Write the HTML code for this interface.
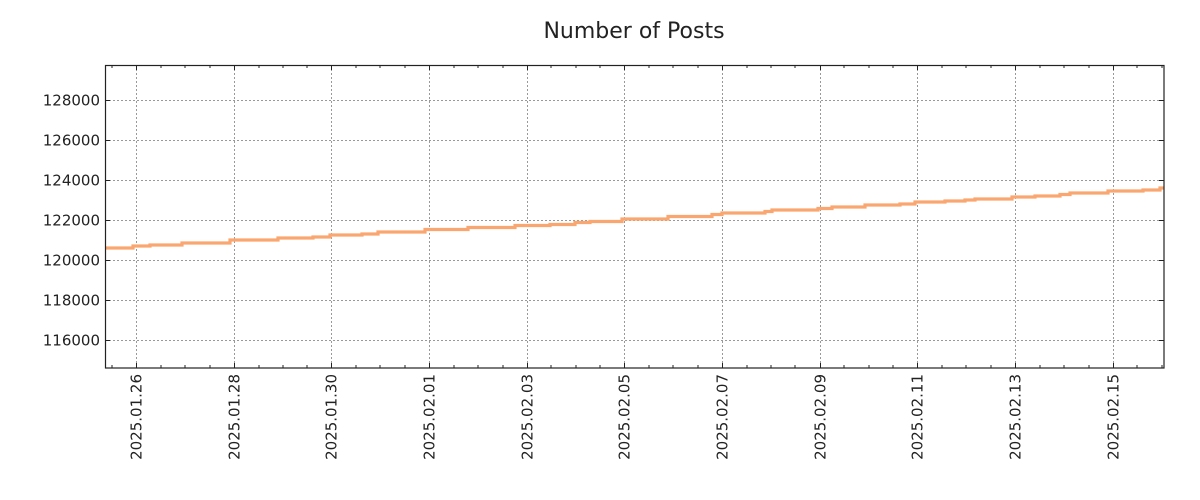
<!DOCTYPE html>
<html><head><style>html,body{margin:0;background:#fff;overflow:hidden;width:1200px;height:500px}svg{display:block}</style></head><body>
<svg width="1200" height="500" xmlns="http://www.w3.org/2000/svg" font-family="DejaVu Sans, Liberation Sans, sans-serif" fill="#222">
<text x="634" y="38" font-size="22" text-anchor="middle">Number of Posts</text>
<g stroke="#999" stroke-dasharray="2,2" stroke-width="1">
<line x1="105" x2="1164" y1="100.5" y2="100.5"/><line x1="105" x2="1164" y1="140.5" y2="140.5"/><line x1="105" x2="1164" y1="180.5" y2="180.5"/><line x1="105" x2="1164" y1="220.5" y2="220.5"/><line x1="105" x2="1164" y1="260.5" y2="260.5"/><line x1="105" x2="1164" y1="300.5" y2="300.5"/><line x1="105" x2="1164" y1="340.5" y2="340.5"/>
<line y1="65" y2="368" x1="136.5" x2="136.5"/><line y1="65" y2="368" x1="234.5" x2="234.5"/><line y1="65" y2="368" x1="331.5" x2="331.5"/><line y1="65" y2="368" x1="429.5" x2="429.5"/><line y1="65" y2="368" x1="527.5" x2="527.5"/><line y1="65" y2="368" x1="624.5" x2="624.5"/><line y1="65" y2="368" x1="722.5" x2="722.5"/><line y1="65" y2="368" x1="820.5" x2="820.5"/><line y1="65" y2="368" x1="917.5" x2="917.5"/><line y1="65" y2="368" x1="1015.5" x2="1015.5"/><line y1="65" y2="368" x1="1113.5" x2="1113.5"/>
</g>
<path fill="none" stroke="#f9a671" stroke-width="3.2" d="M105,248H133V246H150V245H182V243H230V240H278V238H313V237H330V235H362V234H378V232H425V229.5H468V227.5H515V225.5H550V224.5H575V222.5H590V221.5H622V219H668V216.5H712V214.5H722V213H765V211.5H772V210H818V208.5H832V207H865V205H900V204H915V202H945V201H965V200H975V199H1012V197H1035V196H1060V194.5H1070V193H1108V191H1143V190H1160V188H1164"/>
<rect x="105.5" y="65.5" width="1058.5" height="302.5" fill="none" stroke="#222" stroke-width="1.2"/>
<g stroke="#222" stroke-width="1">
<path d="M105,100.5h5M105,140.5h5M105,180.5h5M105,220.5h5M105,260.5h5M105,300.5h5M105,340.5h5M1164,100.5h-5M1164,140.5h-5M1164,180.5h-5M1164,220.5h-5M1164,260.5h-5M1164,300.5h-5M1164,340.5h-5"/>
<path d="M136.5,368v-5M234.5,368v-5M331.5,368v-5M429.5,368v-5M527.5,368v-5M624.5,368v-5M722.5,368v-5M820.5,368v-5M917.5,368v-5M1015.5,368v-5M1113.5,368v-5M136.5,65v5M234.5,65v5M331.5,65v5M429.5,65v5M527.5,65v5M624.5,65v5M722.5,65v5M820.5,65v5M917.5,65v5M1015.5,65v5M1113.5,65v5"/>
<path d="M112,368v-3M161,368v-3M185,368v-3M210,368v-3M259,368v-3M283,368v-3M307,368v-3M356,368v-3M380,368v-3M405,368v-3M454,368v-3M478,368v-3M503,368v-3M551,368v-3M576,368v-3M600,368v-3M649,368v-3M673,368v-3M698,368v-3M747,368v-3M771,368v-3M795,368v-3M844,368v-3M869,368v-3M893,368v-3M942,368v-3M966,368v-3M991,368v-3M1040,368v-3M1064,368v-3M1089,368v-3M1137,368v-3M1162,368v-3"/>
<path d="M112,65v3M161,65v3M185,65v3M210,65v3M259,65v3M283,65v3M307,65v3M356,65v3M380,65v3M405,65v3M454,65v3M478,65v3M503,65v3M551,65v3M576,65v3M600,65v3M649,65v3M673,65v3M698,65v3M747,65v3M771,65v3M795,65v3M844,65v3M869,65v3M893,65v3M942,65v3M966,65v3M991,65v3M1040,65v3M1064,65v3M1089,65v3M1137,65v3M1162,65v3"/>
</g>
<g font-size="15" text-anchor="end">
<text x="100" y="105.5">128000</text><text x="100" y="145.5">126000</text><text x="100" y="185.5">124000</text><text x="100" y="225.5">122000</text><text x="100" y="265.5">120000</text><text x="100" y="305.5">118000</text><text x="100" y="345.5">116000</text>
</g>
<g font-size="15" text-anchor="end">
<text transform="translate(141.5,374) rotate(-90)">2025.01.26</text>
<text transform="translate(239.5,374) rotate(-90)">2025.01.28</text>
<text transform="translate(336.5,374) rotate(-90)">2025.01.30</text>
<text transform="translate(434.5,374) rotate(-90)">2025.02.01</text>
<text transform="translate(532.5,374) rotate(-90)">2025.02.03</text>
<text transform="translate(629.5,374) rotate(-90)">2025.02.05</text>
<text transform="translate(727.5,374) rotate(-90)">2025.02.07</text>
<text transform="translate(825.5,374) rotate(-90)">2025.02.09</text>
<text transform="translate(922.5,374) rotate(-90)">2025.02.11</text>
<text transform="translate(1020.5,374) rotate(-90)">2025.02.13</text>
<text transform="translate(1118.5,374) rotate(-90)">2025.02.15</text>
</g>
</svg>
</body></html>
